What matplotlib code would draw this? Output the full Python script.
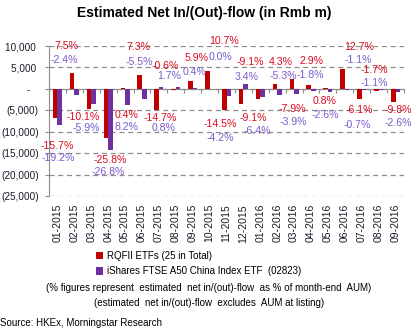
import numpy as np
import matplotlib
matplotlib.use('Agg')
import matplotlib.pyplot as plt
from matplotlib import font_manager

months = ['01-2015', '02-2015', '03-2015', '04-2015', '05-2015', '06-2015', '07-2015',
          '08-2015', '09-2015', '10-2015', '11-2015', '12-2015', '01-2016', '02-2016',
          '03-2016', '04-2016', '05-2016', '06-2016', '07-2016', '08-2016', '09-2016']

# estimated net in/(out)-flow, Rmb m
rqfii = [-6800, 3600, -4750, -11400, 100, 3200, -4950, -300, 1800, 4100, -5000,
         -3500, -2250, 1020, 2360, 790, 150, 4550, -2280, -550, -3100]
ishares = [-8500, -1350, -3470, -14150, -3870, -2480, 380, 550, 100, 0, -1570,
           1020, -2000, -1450, -1100, -550, -700, -300, -300, -300, -700]

rqfii_pct = ['-15.7%', '7.5%', '-10.1%', '-25.8%', '0.4%', '7.3%', '-14.7%', '-0.6%',
             '5.9%', '10.7%', '-14.5%', '-9.1%', '-9.1%', '4.3%', '-7.9%', '2.9%',
             '0.8%', '12.7%', '-6.1%', '-1.7%', '-9.8%']
ishares_pct = ['-19.2%', '-2.4%', '-5.9%', '-26.8%', '8.2%', '-5.5%', '0.8%', '1.7%',
               '0.4%', '0.0%', '-4.2%', '3.4%', '-6.4%', '-5.3%', '-3.9%', '-1.8%',
               '-2.6%', '-1.1%', '-0.7%', '-1.1%', '-2.6%']

yticks = [-25000, -20000, -15000, -10000, -5000, 0, 5000, 10000]
ytick_labels = ['(25,000)', '(20,000)', '(15,000)', '(10,000)', '(5,000)', '-   ', '5,000 ', '10,000 ']

# hand placed label spots (category x, value y), as in the source chart
rqfii_pos = [(0.0, -13320), (0.53, 9890), (1.54, -6670), (3.14, -16540), (4.08, -6090),
             (4.82, 9660), (6.07, -6790), (6.39, 5230), (8.23, 7210), (9.85, 11060),
             (9.62, -8190), (11.42, 6280), (11.6, -6790), (13.19, 6160), (13.9, -4690),
             (15.0, 6390), (15.83, -2820), (17.87, 9780), (17.84, -5040), (18.73, 4410),
             (20.17, -5040)]
ishares_pos = [(0.03, -16120), (0.42, 6740), (1.72, -9120), (3.02, -19390), (4.08, -8890),
               (4.82, 6160), (6.27, -9240), (6.6, 2890), (8.14, 3940), (9.67, 7440),
               (9.64, -11460), (11.18, 2780), (11.8, -9940), (13.37, 3010), (13.93, -7720),
               (14.97, 3240), (15.86, -6090), (17.78, 6630), (17.72, -8420), (18.75, 1260),
               (20.17, -7960)]

names = {f.name for f in font_manager.fontManager.ttflist}
font = 'Liberation Sans' if 'Liberation Sans' in names else 'DejaVu Sans'
plt.rcParams['font.family'] = [font, 'DejaVu Sans']

red = '#C00000'
purple = '#7030A0'
red_txt = '#DA0A1E'
purple_txt = '#7A5BCB'
grey = '#8C8C8C'

fig = plt.figure(figsize=(4.18, 3.32), dpi=100)
ax = fig.add_axes([49/418, 1 - 196/332, 355/418, 150/332])

x = np.arange(len(months))
w = 0.27
b1 = ax.bar(x - w/2, rqfii, w, color=red, label='RQFII ETFs (25 in Total)', zorder=3)
b2 = ax.bar(x + w/2, ishares, w, color=purple,
            label='iShares FTSE A50 China Index ETF  (02823)', zorder=3)

for (px, py), s in zip(rqfii_pos, rqfii_pct):
    ax.text(px, py, s, color=red_txt, fontsize=7.6, ha='center', va='center', zorder=4)
for (px, py), s in zip(ishares_pos, ishares_pct):
    ax.text(px, py, s, color=purple_txt, fontsize=7.6, ha='center', va='center', zorder=4)

ax.set_xlim(-0.5, len(months) - 0.5)
ax.set_ylim(-25000, 10000)
ax.set_yticks(yticks, ytick_labels)
ax.yaxis.grid(True, linestyle=(0, (4, 3)), color=grey, lw=0.9, zorder=1)
ax.tick_params(axis='y', length=3, color=grey, pad=4.5, labelsize=7.2, labelcolor='#1a1a2a')

for s in ['top', 'right']:
    ax.spines[s].set_visible(False)
ax.spines['left'].set_color(grey)
ax.spines['bottom'].set_color(grey)
ax.spines['bottom'].set_position(('data', 0))
ax.spines['bottom'].set_zorder(2)
ax.set_xticks(np.arange(-0.5, len(months), 1), [])
ax.tick_params(axis='x', length=3, color=grey)

sec = ax.secondary_xaxis(0)
sec.set_xticks(x, months, rotation=90)
sec.tick_params(length=0, pad=5.8, labelsize=7.5, labelcolor='#1a1a2a')
for s in sec.spines.values():
    s.set_visible(False)

fig.text(204.5/418, 1 - 12.5/332, 'Estimated Net In/(Out)-flow (in Rmb m)',
         ha='center', va='center', fontsize=10, fontweight='bold')

fig.legend(handles=[b1, b2], loc='upper left', bbox_to_anchor=(96/418, 1 - 251/332),
           frameon=False, fontsize=7, handlelength=0.75, handleheight=0.75,
           handletextpad=0.35, labelspacing=0.55, borderpad=0, borderaxespad=0)

fig.text(208.5/418, 1 - 288/332,
         '(% figures represent  estimated  net in/(out)-flow  as % of month-end  AUM)',
         ha='center', va='center', fontsize=7)
fig.text(209.5/418, 1 - 303/332,
         '(estimated  net in/(out)-flow  excludes  AUM at listing)',
         ha='center', va='center', fontsize=7)
fig.text(0, 1 - 323/332, 'Source: HKEx, Morningstar Research', ha='left', va='center',
         fontsize=7)

fig.savefig('out.png', dpi=100)
